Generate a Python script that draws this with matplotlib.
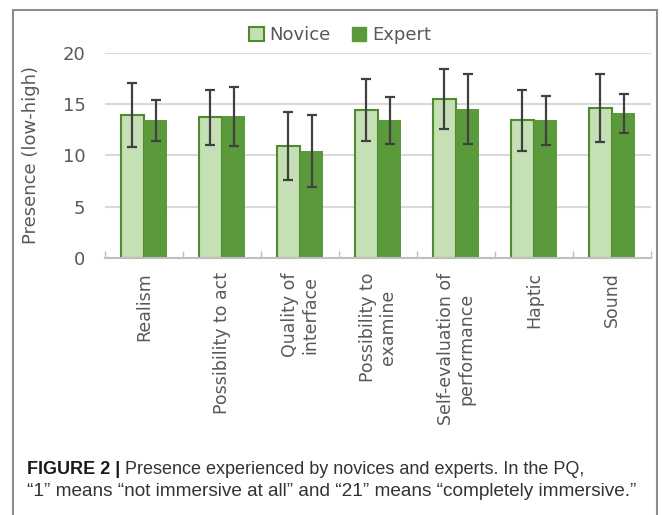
import matplotlib.pyplot as plt
import matplotlib.patches as mpatches
import numpy as np

categories = ["Realism", "Possibility to act", "Quality of\ninterface",
              "Possibility to\nexamine", "Self-evaluation of\nperformance",
              "Haptic", "Sound"]
novice = [13.9, 13.7, 10.9, 14.4, 15.5, 13.4, 14.6]
novice_err = [3.1, 2.7, 3.3, 3.0, 2.9, 2.95, 3.3]
expert = [13.4, 13.8, 10.4, 13.4, 14.5, 13.4, 14.1]
expert_err = [2.0, 2.9, 3.5, 2.3, 3.4, 2.4, 1.9]
yticks = [0, 5, 10, 15, 20]

light = "#c5e0b4"
dark = "#5b9a3a"
edge = "#4f8a2f"
txt = "#595959"

fig = plt.figure(figsize=(6.63, 5.15), dpi=100)
ax = fig.add_axes([105 / 663, 1 - 258 / 515, 546 / 663, 205.3 / 515])

x = np.arange(len(categories))
w = 0.3
err_kw = dict(ecolor="#404040", elinewidth=1.6, capsize=3.5, capthick=1.6)
ax.bar(x - w / 2, novice, w, yerr=novice_err, color=light, edgecolor=edge,
       linewidth=1.5, error_kw=err_kw, zorder=2, label="Novice")
ax.bar(x + w / 2, expert, w, yerr=expert_err, color=dark, edgecolor=dark,
       linewidth=0, error_kw=err_kw, zorder=2, label="Expert")

ax.set_xlim(-0.5, len(categories) - 0.5)
ax.set_ylim(0, 20)
ax.set_yticks(yticks)
ax.yaxis.grid(True, color="#d9d9d9", linewidth=1.5, zorder=0)
ax.set_axisbelow(True)
for s in ["top", "right", "left"]:
    ax.spines[s].set_visible(False)
ax.spines["bottom"].set_color("#bfbfbf")
ax.spines["bottom"].set_linewidth(1.5)

ax.tick_params(axis="y", length=0, pad=14, labelsize=13, labelcolor=txt)
ax.set_xticks(np.arange(len(categories) + 1) - 0.5)
ax.set_xticklabels([])
ax.tick_params(axis="x", direction="in", length=5, color="#bfbfbf", width=1)
for i, c in enumerate(categories):
    ax.text(i, -1.4, c, rotation=90, ha="center", va="top",
            multialignment="center", fontsize=12.5, color=txt,
            transform=ax.transData)

ax.set_ylabel("Presence (low-high)", fontsize=13, color=txt, labelpad=16)

handles = [mpatches.Patch(facecolor=light, edgecolor=edge, linewidth=1.5),
           mpatches.Patch(facecolor=dark, edgecolor=dark)]
fig.legend(handles, ["Novice", "Expert"], loc="center", bbox_to_anchor=(340 / 663, 1 - 35 / 515),
           ncol=2, frameon=False, fontsize=13, labelcolor=txt,
           handlelength=0.8, handleheight=0.8, handletextpad=0.3, columnspacing=1.2)

# outer frame
fig.patches.append(mpatches.Rectangle((13 / 663, -0.05), 644 / 663, 1.05 - 10 / 515,
                                      transform=fig.transFigure, fill=False,
                                      edgecolor="#8c8c8c", linewidth=1.5))

t1 = fig.text(27 / 663, 1 - 470 / 515, "FIGURE 2 |", fontsize=13, fontweight="bold",
              family="Liberation Sans", va="center", color="#1a1a1a")
plt.annotate(" Presence experienced by novices and experts. In the PQ,", xy=(1, 0.5),
             xycoords=t1, va="center", ha="left", fontsize=13,
             family="Liberation Sans", color="#333333")
fig.text(27 / 663, 1 - 492 / 515,
         "\u201c1\u201d means \u201cnot immersive at all\u201d and \u201c21\u201d means \u201ccompletely immersive.\u201d",
         fontsize=13.7, family="Liberation Sans", va="center", color="#333333")

fig.savefig("out.png", dpi=100)
